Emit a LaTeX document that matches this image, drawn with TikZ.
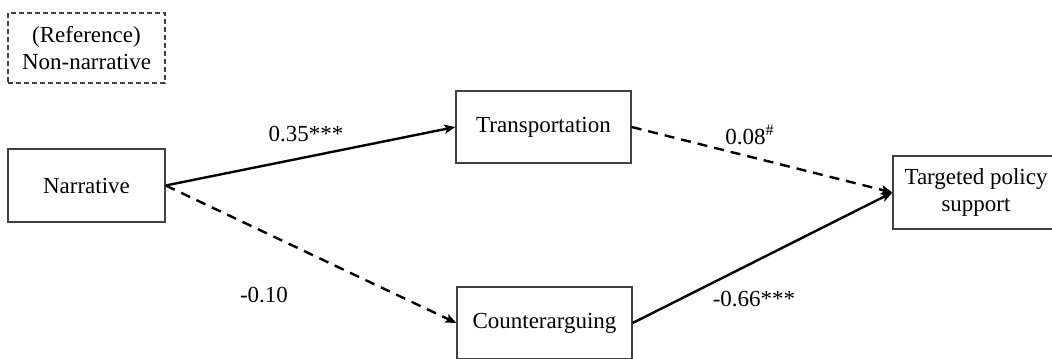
\documentclass[tikz,border=0pt]{standalone}
\usepackage{fontspec}
\setmainfont{Liberation Serif}
\usetikzlibrary{arrows.meta}
\begin{document}
\begin{tikzpicture}[x=0.5pt,y=-0.5pt,
  font=\fontsize{11.5pt}{13.5pt}\selectfont,
  box/.style={draw=black!75,line width=0.65pt,rectangle,inner sep=0pt,align=center,
    minimum width=#1},
  box/.default=87.5pt,
  path/.style={line width=1.2pt,-{Stealth[length=5.5pt,width=4.5pt,inset=1.2pt]}},
  dpath/.style={path,dash pattern=on 5pt off 3.5pt},
  lbl/.style={inner sep=0pt,anchor=center}]
\useasboundingbox (0,0) rectangle (1052,358);
\node[box=78.5pt,minimum height=35pt,dashed,dash pattern=on 2.5pt off 1.5pt] (ref) at (86.5,48) {(Reference)\\Non-narrative};
\node[box=78.5pt,minimum height=36.5pt] (narr) at (86.5,185.5) {Narrative};
\node[box,minimum height=36pt] (trans) at (543.5,127) {Transportation};
\node[box,minimum height=36pt] (counter) at (544.5,323) {Counterarguing};
\node[box=83pt,minimum height=36.5pt] (target) at (976,192.5) {Targeted policy\\support};
\draw[path] (narr.east) -- (trans.west);
\draw[dpath] (narr.east) -- (counter.west);
\draw[dpath] (trans.east) -- (target.west);
\draw[path] (counter.east) -- (target.west);
\node[lbl] (l1) at (306,134) {0.35***};
\node[lbl] (l2) at (750,135) {0.08\textsuperscript{\#}};
\node[lbl] (l3) at (264,295) {-0.10};
\node[lbl] (l4) at (754,299) {-0.66***};
\end{tikzpicture}
\end{document}
